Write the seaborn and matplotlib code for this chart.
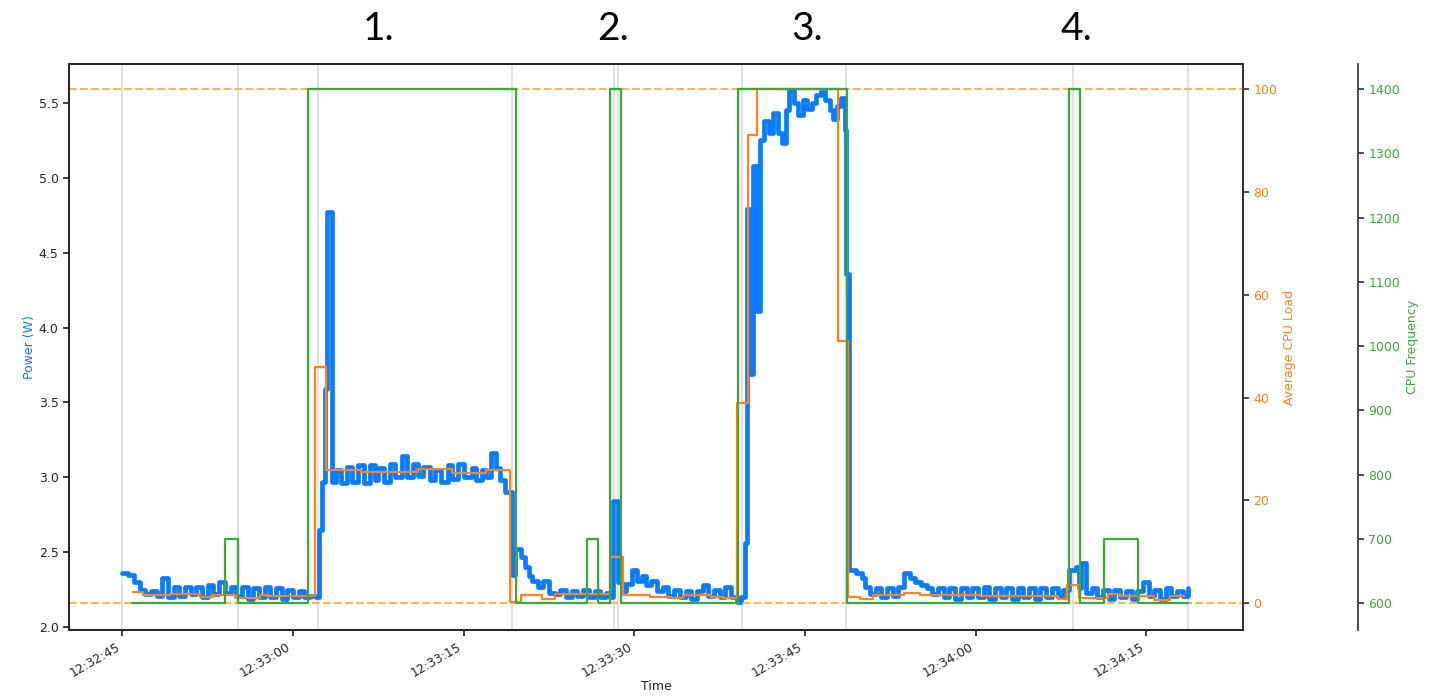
import matplotlib
matplotlib.use('Agg')
import matplotlib.pyplot as plt
import matplotlib.dates as mdates
import pandas as pd
import seaborn as sns

# seconds after 12:32:45
start = pd.Timestamp('2021-01-01 12:32:45')

# power draw (W), sampled irregularly
power_t = [0.0, 0.5, 1.0, 1.5, 2.0, 2.5, 3.0, 3.5, 4.0, 4.5, 5.0, 5.5, 6.0, 6.5, 7.0, 7.5, 8.0, 8.5,
           9.0, 9.5, 10.0, 10.5, 11.0, 11.5, 12.0, 12.5, 13.0, 13.5, 14.0, 14.5, 15.0, 15.5, 16.0, 16.5,
           17.0, 17.3, 17.5, 17.8, 18.0, 18.4, 18.8, 19.2, 19.7, 20.2, 20.7, 21.2, 21.8, 22.2, 22.5, 23.0,
           23.5, 24.0, 24.6, 25.0, 25.5, 26.0, 26.4, 27.0, 27.5, 28.0, 28.6, 29.0, 29.5, 30.0, 30.7, 31.1,
           31.6, 32.0, 32.4, 32.8, 33.2, 33.6, 34.2, 34.5, 35.0, 35.4, 35.7, 36.0, 36.5, 37.0, 37.5, 38.0,
           38.5, 39.0, 39.5, 40.0, 40.5, 41.0, 41.5, 42.0, 42.5, 42.8, 43.1, 43.6, 43.9, 44.3, 44.8, 45.2,
           45.7, 46.0, 46.5, 47.0, 47.5, 48.0, 48.5, 49.0, 49.5, 50.0, 50.5, 51.0, 51.5, 52.0, 52.5, 53.0,
           53.5, 54.0, 54.4, 54.7, 54.9, 55.2, 55.4, 55.8, 56.0, 56.4, 56.8, 57.2, 57.6, 58.0, 58.3, 58.6,
           59.0, 59.4, 59.8, 60.2, 60.6, 61.0, 61.4, 61.8, 62.2, 62.5, 62.8, 63.2, 63.5, 63.6, 63.85, 64.5,
           65.0, 65.3, 65.7, 66.2, 66.7, 67.2, 67.7, 68.2, 68.7, 69.2, 69.7, 70.2, 70.7, 71.2, 71.7, 72.2,
           72.7, 73.2, 73.7, 74.2, 74.7, 75.2, 75.7, 76.2, 76.7, 77.2, 77.7, 78.2, 78.7, 79.2, 79.7, 80.2,
           80.7, 81.2, 81.7, 82.2, 82.7, 83.2, 83.8, 84.1, 84.3, 84.7, 85.2, 85.7, 86.2, 86.7, 87.2, 87.7,
           88.2, 88.7, 89.2, 89.7, 90.2, 90.7, 91.2, 91.7, 92.2, 92.7, 93.2, 93.7]
power_w = [2.36, 2.35, 2.30, 2.25, 2.22, 2.24, 2.21, 2.33, 2.20, 2.27, 2.21, 2.27, 2.22, 2.27, 2.20, 2.28, 2.22, 2.30,
           2.23, 2.27, 2.21, 2.27, 2.19, 2.26, 2.20, 2.27, 2.20, 2.26, 2.19, 2.25, 2.20, 2.24, 2.20, 2.21,
           2.20, 2.65, 2.97, 3.59, 4.77, 2.97, 3.05, 2.96, 3.07, 2.97, 3.08, 2.96, 3.08, 2.98, 3.06, 2.97,
           3.09, 3.00, 3.14, 3.00, 3.09, 3.01, 3.07, 2.98, 3.05, 2.97, 3.08, 2.99, 3.09, 3.00, 3.06, 2.98,
           3.05, 3.00, 3.16, 3.06, 2.98, 2.90, 2.35, 2.52, 2.47, 2.40, 2.34, 2.31, 2.27, 2.31, 2.23, 2.22,
           2.25, 2.20, 2.24, 2.21, 2.25, 2.20, 2.24, 2.20, 2.23, 2.20, 2.84, 2.30, 2.24, 2.29, 2.38, 2.31,
           2.34, 2.28, 2.31, 2.24, 2.27, 2.21, 2.25, 2.20, 2.24, 2.19, 2.24, 2.28, 2.21, 2.25, 2.20, 2.27,
           2.20, 2.17, 2.20, 2.56, 4.79, 3.69, 5.08, 4.11, 5.25, 5.38, 5.30, 5.43, 5.30, 5.23, 5.45, 5.58,
           5.50, 5.42, 5.52, 5.46, 5.50, 5.55, 5.58, 5.52, 5.45, 5.39, 5.48, 5.53, 5.32, 4.36, 2.38, 2.36,
           2.33, 2.27, 2.22, 2.26, 2.20, 2.26, 2.21, 2.27, 2.36, 2.33, 2.30, 2.28, 2.26, 2.22, 2.26, 2.20,
           2.26, 2.19, 2.26, 2.20, 2.26, 2.20, 2.27, 2.19, 2.26, 2.20, 2.26, 2.19, 2.26, 2.20, 2.26, 2.19,
           2.26, 2.20, 2.26, 2.20, 2.25, 2.38, 2.40, 2.26, 2.43, 2.23, 2.26, 2.20, 2.25, 2.19, 2.25, 2.20,
           2.24, 2.19, 2.24, 2.30, 2.21, 2.25, 2.19, 2.26, 2.21, 2.24, 2.21, 2.26]

# average CPU load (%)
load_t = [0.9, 1.8, 4.2, 6.8, 8.0, 10.0, 12.1, 12.7, 16.9, 17.9, 21.0, 26.0, 29.0, 32.0, 34.1, 35.0,
          36.9, 38.0, 42.9, 44.0, 46.4, 48.2, 49.3, 51.7, 52.8, 54.0, 55.0, 55.8, 62.9, 63.8, 64.8, 66.0,
          68.7, 70.1, 75.4, 82.2, 83.0, 84.1, 86.6, 87.7, 90.7, 92.1, 93.3]
load_pct = [2.1, 1.6, 1.9, 1.2, 1.6, 1.0, 1.7, 1.4, 46.0, 26.0, 25.5, 26.2, 25.4, 26.0, 0.3, 1.6,
            0.9, 1.9, 9.0, 1.6, 1.3, 1.0, 1.6, 1.3, 1.0, 39.0, 91.0, 100.0, 51.0, 1.2, 0.9, 1.6,
            2.0, 1.6, 1.4, 0.9, 3.5, 1.0, 1.8, 1.4, 0.7, 1.4, 1.4]

# CPU frequency (MHz)
freq_t = [0.84, 9.0, 10.16, 16.3, 34.6, 40.8, 41.8, 42.9, 43.8, 54.1, 63.7, 83.2, 84.2, 86.3, 89.3, 93.7]
freq_mhz = [600, 700, 600, 1400, 600, 700, 600, 1400, 600, 1400, 600, 1400, 600, 700, 600, 600]

# event markers (grey vertical lines)
marker_t = [0.0, 10.13, 17.2, 34.2, 43.2, 43.6, 54.5, 63.6, 83.6, 93.7]

phase_labels = ['1.', '2.', '3.', '4.']

blue = '#0b7bff'
orange = '#ff8420'
green = '#3aa83a'

sns.set_theme(style='ticks')
plt.rcParams['font.family'] = ['DejaVu Sans']
plt.rcParams['xtick.labelsize'] = 9
plt.rcParams['ytick.labelsize'] = 9
plt.rcParams['axes.labelsize'] = 9
plt.rcParams['xtick.major.size'] = 4
plt.rcParams['ytick.major.size'] = 4


def to_time(secs):
    return start + pd.to_timedelta(secs, unit='s')


df_power = pd.DataFrame({'Time': to_time(power_t), 'Power': power_w})
df_load = pd.DataFrame({'Time': to_time(load_t), 'Load': load_pct})
df_freq = pd.DataFrame({'Time': to_time(freq_t), 'Freq': freq_mhz})

fig, ax = plt.subplots(figsize=(14.34, 6.98), dpi=100)
fig.subplots_adjust(left=0.0481, right=0.8668, top=0.9083, bottom=0.0974)

for m in marker_t:
    ax.axvline(to_time(m), color='#e2e2e2', lw=1.5, zorder=0)

sns.lineplot(data=df_power, x='Time', y='Power', ax=ax, color=blue, lw=3.4,
             drawstyle='steps-post', estimator=None)

ax2 = ax.twinx()
ax2.axhline(0, color='#ffb84d', ls='--', lw=1.5)
ax2.axhline(100, color='#ffb84d', ls='--', lw=1.5)
sns.lineplot(data=df_load, x='Time', y='Load', ax=ax2, color=orange, lw=1.6,
             drawstyle='steps-post', estimator=None)

ax3 = ax.twinx()
ax3.spines['right'].set_position(('axes', 1.098))
sns.lineplot(data=df_freq, x='Time', y='Freq', ax=ax3, color=green, lw=1.6,
             drawstyle='steps-post', estimator=None)

ax.set_xlim(to_time(-4.7), to_time(98.5))
ax.set_ylim(1.98, 5.76)
ax2.set_ylim(-5.2, 104.9)
ax3.set_ylim(558, 1439)
ax.set_yticks([2.0, 2.5, 3.0, 3.5, 4.0, 4.5, 5.0, 5.5])
ax2.set_yticks([0, 20, 40, 60, 80, 100])
ax3.set_yticks(list(range(600, 1401, 100)))

ax.xaxis.set_major_locator(mdates.SecondLocator(bysecond=[0, 15, 30, 45]))
ax.xaxis.set_major_formatter(mdates.DateFormatter('%H:%M:%S'))
for lbl in ax.get_xticklabels():
    lbl.set_rotation(30)
    lbl.set_ha('right')

ax.set_xlabel('Time', labelpad=0)
ax.set_ylabel('Power (W)', color=blue, labelpad=2)
ax2.set_ylabel('Average CPU Load', color=orange, labelpad=4)
ax3.set_ylabel('CPU Frequency', color=green, labelpad=4)
ax2.tick_params(axis='y', colors=orange)
ax3.tick_params(axis='y', colors=green)
for a in (ax2, ax3):
    a.spines['right'].set_color('#333333')
    a.tick_params(axis='y', color='#333333')

label_x = [0.2643, 0.4275, 0.5628, 0.7503]
for txt, xf in zip(phase_labels, label_x):
    fig.text(xf, 0.943, txt, ha='center', va='baseline', fontsize=28,
             family=['Lato', 'DejaVu Sans'], color='black')

fig.savefig('out.png', dpi=100)
